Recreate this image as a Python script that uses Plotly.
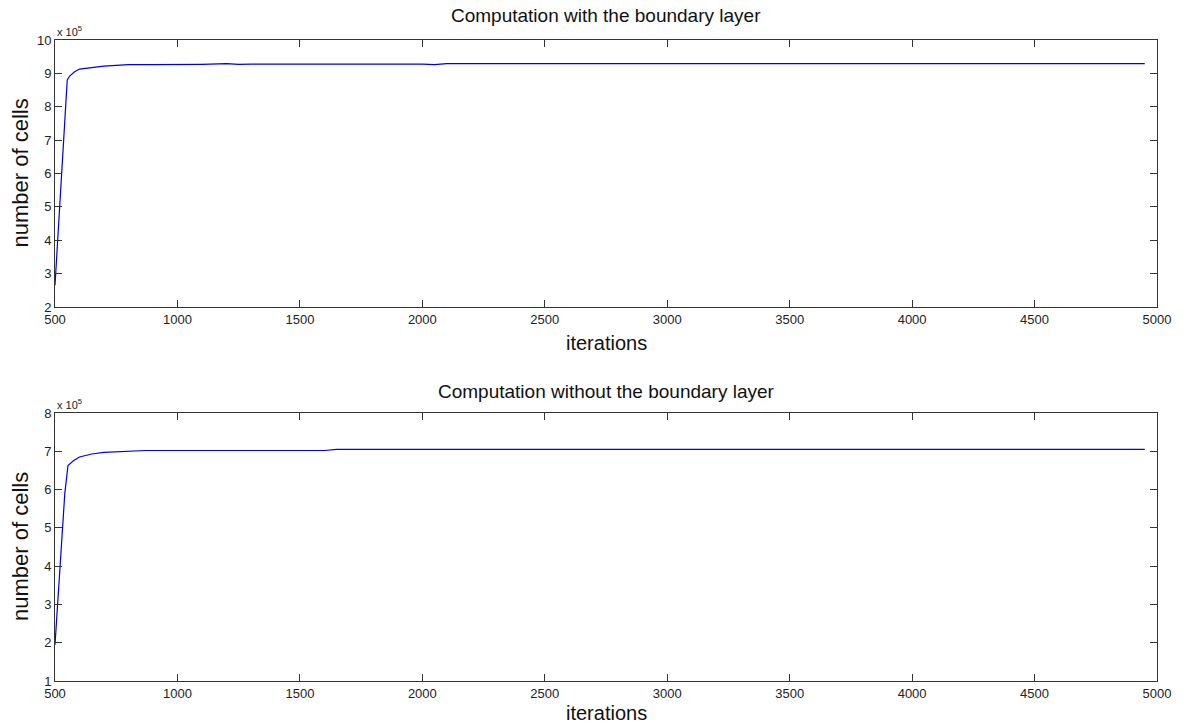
import plotly.graph_objects as go

# Top: computation with the boundary layer (values in units of 1e5)
iter_top = [500, 510, 520, 530, 540, 550, 560, 580, 600, 650, 700, 750, 800, 900, 1000, 1100, 1200,
            1250, 1300, 1400, 1500, 1600, 1700, 1800, 1850, 1900, 2000, 2050, 2100, 2500, 3000, 3500,
            4000, 4500, 4950]
cells_top = [2.65, 3.9, 5.2, 6.4, 7.7, 8.8, 8.92, 9.05, 9.13, 9.18, 9.22, 9.24, 9.26, 9.26, 9.26, 9.27, 9.29,
             9.27, 9.28, 9.27, 9.28, 9.28, 9.28, 9.29, 9.27, 9.28, 9.28, 9.26, 9.29, 9.29, 9.29, 9.29,
             9.29, 9.29, 9.29]

# Bottom: computation without the boundary layer
iter_bot = [500, 510, 520, 530, 540, 553, 575, 600, 650, 700, 750, 800, 870, 1000, 1200, 1400, 1600,
            1650, 2000, 2500, 3000, 3500, 4000, 4500, 4950]
cells_bot = [1.95, 2.9, 3.9, 4.9, 5.9, 6.63, 6.75, 6.85, 6.93, 6.97, 6.99, 7.0, 7.02, 7.02, 7.02, 7.02, 7.02,
             7.05, 7.05, 7.05, 7.05, 7.05, 7.05, 7.05, 7.05]

x_ticks = [500, 1000, 1500, 2000, 2500, 3000, 3500, 4000, 4500, 5000]
y_ticks_top = [2, 3, 4, 5, 6, 7, 8, 9, 10]
y_ticks_bot = [1, 2, 3, 4, 5, 6, 7, 8]

W, H = 1184, 725
xl, xr = 55 / W, 1157 / W
top_dom = [1 - 307 / H, 1 - 40 / H]
bot_dom = [1 - 681 / H, 1 - 413 / H]

FONT = "Liberation Sans, Arial, sans-serif"
LINE = "#0000e0"

fig = go.Figure()
fig.add_trace(go.Scatter(x=iter_top, y=cells_top, mode="lines", line=dict(color=LINE, width=1.2),
                         xaxis="x", yaxis="y", showlegend=False))
fig.add_trace(go.Scatter(x=iter_bot, y=cells_bot, mode="lines", line=dict(color=LINE, width=1.2),
                         xaxis="x2", yaxis="y2", showlegend=False))

axis_common = dict(showline=True, linecolor="#333333", linewidth=1, mirror="ticks", ticks="inside",
                   ticklen=7, tickcolor="#333333", showgrid=False, zeroline=False, automargin=False,
                   tickfont=dict(family=FONT, size=13, color="#222222"))

xtitle_font = dict(family=FONT, size=20, color="#111111")
ytitle_font = dict(family=FONT, size=22, color="#111111")


def ann(text, x, y, font, **kw):
    d = dict(text=text, x=x, y=y, xref="paper", yref="paper", showarrow=False, font=font,
             xanchor="center", yanchor="middle")
    d.update(kw)
    return d


fig.update_layout(
    width=W, height=H, margin=dict(l=0, r=0, t=0, b=0, autoexpand=False),
    paper_bgcolor="white", plot_bgcolor="white",
    xaxis=dict(domain=[xl, xr], anchor="y", range=[500, 5000], tickvals=x_ticks, **axis_common),
    yaxis=dict(domain=top_dom, anchor="x", range=[2, 10], tickvals=y_ticks_top, **axis_common),
    xaxis2=dict(domain=[xl, xr], anchor="y2", range=[500, 5000], tickvals=x_ticks, **axis_common),
    yaxis2=dict(domain=bot_dom, anchor="x2", range=[1, 8], tickvals=y_ticks_bot, **axis_common),
    annotations=[
        ann("Computation with the boundary layer", (xl + xr) / 2, 1 - 15 / H,
            dict(family=FONT, size=19, color="#111111")),
        ann("Computation without the boundary layer", (xl + xr) / 2, 1 - 391 / H,
            dict(family=FONT, size=19, color="#111111")),
        ann("iterations", (xl + xr) / 2, 1 - 343 / H, xtitle_font),
        ann("iterations", (xl + xr) / 2, 1 - 713 / H, xtitle_font),
        ann("number of cells", 20 / W, (top_dom[0] + top_dom[1]) / 2, ytitle_font, textangle=-90),
        ann("number of cells", 20 / W, (bot_dom[0] + bot_dom[1]) / 2, ytitle_font, textangle=-90),
        ann("x 10<sup>5</sup>", xl, top_dom[1], dict(family=FONT, size=11, color="#222222"),
            xanchor="left", yanchor="bottom"),
        ann("x 10<sup>5</sup>", xl, bot_dom[1], dict(family=FONT, size=11, color="#222222"),
            xanchor="left", yanchor="bottom"),
    ],
)

fig.write_html("out.html")
